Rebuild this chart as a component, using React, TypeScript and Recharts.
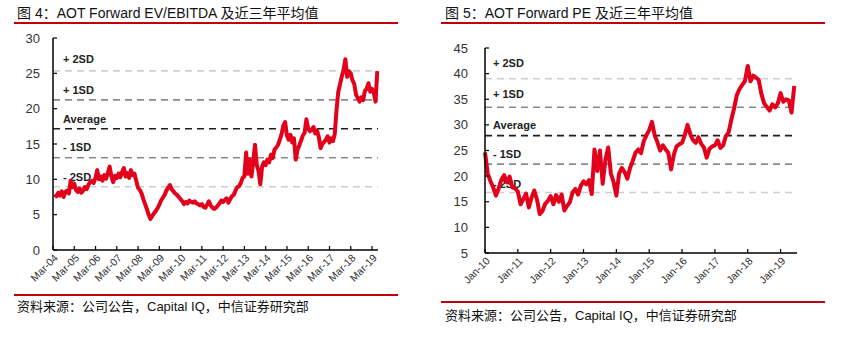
import { Line, LineChart, ReferenceLine, XAxis, YAxis } from "recharts";

// EV/EBITDA, monthly from Apr-04 to Jun-19
const evValues = [
  7.9, 7.6, 8.1, 7.7, 8.3, 7.5, 8.2, 8.4, 8.0,
  9.8, 8.9, 9.4, 8.5, 8.2, 8.7, 8.1, 8.4, 8.9, 8.6, 9.2, 9.6,
  9.8, 9.5, 10.2, 11.3, 10.0, 10.4, 9.8, 10.6, 10.1, 10.9, 11.8, 10.4,
  9.6, 10.5, 10.2, 10.8, 10.3, 11.0, 11.6, 10.4, 10.9, 10.2, 11.3, 10.6,
  10.8, 9.8, 8.8, 8.5, 8.0, 7.2, 6.5, 5.8, 5.0, 4.4, 4.8, 5.2,
  5.5, 5.9, 6.4, 7.0, 7.4, 7.8, 8.4, 8.8, 9.2, 8.6, 8.3, 8.0,
  7.8, 7.5, 7.2, 6.9, 6.5, 6.8, 6.6, 7.0, 6.8, 6.7, 6.9, 6.6,
  6.5, 6.3, 6.5, 6.1, 6.0, 6.4, 6.9, 6.3, 6.0, 5.8, 6.0, 6.3,
  6.6, 7.0, 6.8, 7.1, 7.3, 6.7, 7.2, 7.6, 7.8, 8.4, 8.9, 9.0,
  9.5, 10.2, 10.4, 13.8, 10.8, 12.8, 10.4, 12.5, 14.9, 12.0, 11.2, 9.3,
  11.8, 12.4, 12.0, 12.8, 12.4, 13.5, 13.0, 14.2, 14.5, 14.9, 15.6, 16.4,
  17.6, 18.1, 16.2, 15.6, 16.3, 15.2, 15.8, 12.8, 14.2, 14.8, 15.5, 16.2,
  16.6, 18.5, 17.2, 16.8, 17.0, 17.4, 16.5, 16.9, 16.0, 14.4, 15.0, 15.3,
  15.6, 16.1, 15.2, 15.8, 15.4, 16.4, 19.8, 22.4, 23.5, 24.6, 25.5, 27.0,
  24.5, 25.3, 25.0, 24.0, 23.5, 22.0, 21.5, 21.0, 21.6, 21.2, 22.5, 22.8,
  23.6, 22.4, 22.8, 22.3, 21.0, 25.3,
];

// Forward PE, monthly from Jan-10 to Jun-19
const peValues = [
  24.6, 20.5, 19.0, 17.8, 16.2, 17.6, 19.3, 20.2, 18.8, 19.9, 17.8, 17.6,
  17.0, 14.5, 15.5, 16.6, 13.9, 15.8, 17.2, 15.4, 12.6, 13.2, 14.6, 15.2,
  16.1, 14.5, 16.3, 15.0, 16.4, 13.3, 14.2, 14.9, 16.8, 17.5, 16.4, 18.1,
  19.0, 18.4, 19.2, 16.5, 25.2, 21.0, 25.0, 18.5, 23.2, 25.6, 20.5, 18.8,
  16.2, 20.5, 21.6, 20.8, 19.5, 21.6, 23.0, 24.6, 25.2, 24.5, 26.8, 28.0,
  29.0, 30.6, 28.0, 26.6, 25.0, 26.0, 25.2, 24.5, 21.3, 24.2, 25.8, 26.2,
  26.5, 28.0, 30.0, 28.2, 27.0, 26.5, 27.6, 26.3, 25.6, 23.6, 25.3, 25.8,
  26.0, 27.0, 25.5, 26.0, 27.8, 28.5, 31.0, 33.2, 35.8, 37.0, 37.8, 38.6,
  41.5, 38.5, 39.6, 39.2, 38.8, 36.0, 34.2, 33.5, 32.8, 34.0, 33.4, 34.2,
  36.2, 34.5, 35.0, 34.8, 32.4, 37.6,
];

const evTickLabels = [
  "Mar-04", "Mar-05", "Mar-06", "Mar-07", "Mar-08", "Mar-09", "Mar-10", "Mar-11",
  "Mar-12", "Mar-13", "Mar-14", "Mar-15", "Mar-16", "Mar-17", "Mar-18", "Mar-19",
];
const peTickLabels = [
  "Jan-10", "Jan-11", "Jan-12", "Jan-13", "Jan-14", "Jan-15", "Jan-16", "Jan-17",
  "Jan-18", "Jan-19",
];

const bandNames = ["+ 2SD", "+ 1SD", "Average", "- 1SD", "- 2SD"];
const evBands = [25.35, 21.25, 17.15, 13.05, 8.95];
const peBands = [39.0, 33.45, 27.9, 22.35, 16.8];

const evYTicks = [0, 5, 10, 15, 20, 25, 30];
const peYTicks = [5, 10, 15, 20, 25, 30, 35, 40, 45];

const bandColors = ["#cfcfcf", "#8a8a8a", "#1e1e1e", "#8a8a8a", "#cfcfcf"];
const RED = "#e3001b";
const FONT = '"Liberation Sans", Arial, "Noto Sans CJK SC", sans-serif';

const EV_START = 2004.25; // Apr-04
const EV_TICK0 = 2004.17; // Mar-04
const PE_START = 2010;

const evData = evValues.map((v, i) => ({ t: EV_START + i / 12, v }));
const peData = peValues.map((v, i) => ({ t: PE_START + i / 12, v }));
const evTicks = evTickLabels.map((_, i) => EV_TICK0 + i);
const peTicks = peTickLabels.map((_, i) => PE_START + i);

function slantTick(labels: string[]) {
  return (props: any) => {
    const { x, y, index } = props;
    return (
      <text
        transform={`translate(${x + 3},${y + 3}) rotate(-45)`}
        textAnchor="end"
        dy="0.35em"
        fontSize={10.5}
        fontFamily={FONT}
        fill="#333"
      >
        {labels[index]}
      </text>
    );
  };
}

function bandLabel(text: string, dx: number, dy: number) {
  return (props: any) => {
    const { viewBox } = props;
    return (
      <text
        x={viewBox.x + dx}
        y={viewBox.y - dy}
        fontSize={11}
        fontWeight="bold"
        fontFamily={FONT}
        fill="#222"
      >
        {text}
      </text>
    );
  };
}

const evLabelOffsets = [8, 6, 6, 7, 6];
const peLabelOffsets = [12, 9, 7, 6, 5];

function ValuationChart({
  data,
  ticks,
  tickLabels,
  domainX,
  yTicks,
  bands,
  labelOffsets,
  labelDx,
  width,
  height,
  margin,
  yTickMargin,
}: any) {
  return (
    <LineChart width={width} height={height} data={data} margin={margin}>
      <XAxis
        dataKey="t"
        type="number"
        domain={domainX}
        ticks={ticks}
        interval={0}
        height={40}
        tickSize={-4}
        tickMargin={7}
        axisLine={{ stroke: "#000", strokeWidth: 1.5 }}
        tickLine={{ stroke: "#000", strokeWidth: 1.2 }}
        tick={slantTick(tickLabels)}
      />
      <YAxis
        type="number"
        domain={[yTicks[0], yTicks[yTicks.length - 1]]}
        ticks={yTicks}
        interval={0}
        width={40}
        tickSize={-4}
        tickMargin={yTickMargin}
        axisLine={{ stroke: "#000", strokeWidth: 1.5 }}
        tickLine={{ stroke: "#000", strokeWidth: 1.2 }}
        tick={{ fontSize: 13, fill: "#333", fontFamily: FONT }}
      />
      {bands.map((b: number, i: number) => (
        <ReferenceLine
          key={bandNames[i]}
          y={b}
          stroke={bandColors[i]}
          strokeWidth={1.6}
          strokeDasharray="7 5"
          label={bandLabel(bandNames[i], labelDx, labelOffsets[i])}
        />
      ))}
      <Line
        type="linear"
        dataKey="v"
        stroke={RED}
        strokeWidth={4}
        strokeLinejoin="round"
        dot={false}
        isAnimationActive={false}
      />
    </LineChart>
  );
}

const textStyle = {
  position: "absolute" as const,
  fontFamily: FONT,
  color: "#111",
  whiteSpace: "nowrap" as const,
};

function Rule({ left, top }: { left: number; top: number }) {
  return (
    <div
      style={{
        position: "absolute",
        left,
        top,
        width: 384,
        height: 1.5,
        background: "#c0000c",
      }}
    />
  );
}

export default function App() {
  return (
    <div
      style={{
        position: "absolute",
        left: 0,
        top: 0,
        width: 849,
        height: 352,
        background: "#fff",
        overflow: "hidden",
      }}
    >
      <div style={{ ...textStyle, left: 17, top: 5, fontSize: 14, lineHeight: "16px" }}>
        图 4：AOT Forward EV/EBITDA 及近三年平均值
      </div>
      <Rule left={14} top={22} />
      <div style={{ ...textStyle, left: 445, top: 5, fontSize: 14, lineHeight: "16px" }}>
        图 5：AOT Forward PE 及近三年平均值
      </div>
      <Rule left={441} top={22} />

      <div style={{ position: "absolute", left: 0, top: 0 }}>
        <ValuationChart
          data={evData}
          ticks={evTicks}
          tickLabels={evTickLabels}
          domainX={[EV_TICK0, 2019.45]}
          yTicks={evYTicks}
          bands={evBands}
          labelOffsets={evLabelOffsets}
          labelDx={10}
          width={420}
          height={290}
          margin={{ top: 38, right: 42, bottom: 0, left: 13 }}
          yTickMargin={17}
        />
      </div>
      <div style={{ position: "absolute", left: 425, top: 0 }}>
        <ValuationChart
          data={peData}
          ticks={peTicks}
          tickLabels={peTickLabels}
          domainX={[PE_START, 2019.5]}
          yTicks={peYTicks}
          bands={peBands}
          labelOffsets={peLabelOffsets}
          labelDx={8}
          width={424}
          height={293}
          margin={{ top: 48, right: 52, bottom: 0, left: 20 }}
          yTickMargin={21}
        />
      </div>

      <Rule left={14} top={294} />
      <div style={{ ...textStyle, left: 17, top: 299, fontSize: 13, lineHeight: "16px" }}>
        资料来源：公司公告，Capital IQ，中信证券研究部
      </div>
      <Rule left={441} top={301} />
      <div style={{ ...textStyle, left: 445, top: 308, fontSize: 13, lineHeight: "16px" }}>
        资料来源：公司公告，Capital IQ，中信证券研究部
      </div>
    </div>
  );
}
